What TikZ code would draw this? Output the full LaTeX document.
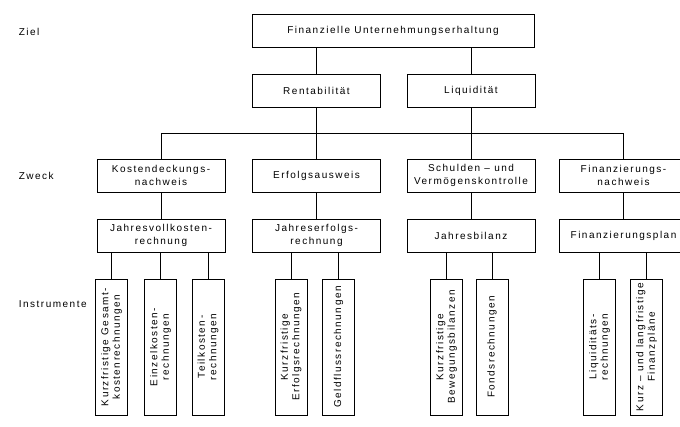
\documentclass[tikz,border=0pt]{standalone}
\usepackage{fontspec}
\setmainfont{Liberation Sans}[LetterSpace=15]
\usepackage{tikz}

\begin{document}
\begin{tikzpicture}[x=1pt,y=-1pt,line width=1pt,
  box/.style={draw,rectangle,align=center,inner sep=0pt,font=\fontsize{10}{12.5}\selectfont},
  wide/.style={box,minimum width=128pt,minimum height=33pt},
  instr/.style={box,minimum width=136pt,minimum height=32pt,rotate=90},
  level/.style={anchor=west,font=\fontsize{10}{12}\selectfont}]
\useasboundingbox (0,0) rectangle (680,426);

% Levels
\node[level] (lziel) at (15,32) {Ziel};
\node[level] (lzweck) at (15,176) {Zweck};
\node[level] (linstr) at (15,304) {Instrumente};

% Ziel
\node[box,minimum width=282pt,minimum height=33pt] (ziel) at (393,30.5) {Finanzielle Unternehmungserhaltung};
\node[wide] (rent) at (316.5,90.5) {Rentabilität};
\node[wide] (liq) at (471,90.5) {Liquidität};
\draw (ziel.south -| rent) -- (rent.north);
\draw (ziel.south -| liq) -- (liq.north);

% Zweck
\node[wide] (kost) at (161,175.5) {Kostendeckungs-\\nachweis};
\node[wide] (erfa) at (316.5,175.5) {Erfolgsausweis};
\node[wide] (schuld) at (471,175.5) {Schulden – und\\Vermögenskontrolle};
\node[wide] (finn) at (623.5,175.5) {Finanzierungs-\\nachweis};

\node[wide] (jvk) at (161,235.5) {Jahresvollkosten-\\rechnung};
\node[wide] (jer) at (316.5,235.5) {Jahreserfolgs-\\rechnung};
\node[wide] (jbil) at (471,235.5) {Jahresbilanz};
\node[wide] (fplan) at (623.5,235.5) {Finanzierungsplan};

\coordinate (bus) at (0,133);
\draw (kost.north |- bus) -- (finn.north |- bus);
\draw (rent.south) -- (rent.south |- bus);
\draw (liq.south) -- (liq.south |- bus);
\foreach \z/\r in {kost/jvk,erfa/jer,schuld/jbil,finn/fplan}{
  \draw (\z.north |- bus) -- (\z.north);
  \draw (\z.south) -- (\r.north);
}

% Instrumente
\foreach \n/\x/\p/\t in {
  k1/111.5/jvk/{Kurzfristige Gesamt-\\kostenrechnungen},
  k2/160.5/jvk/{Einzelkosten-\\rechnungen},
  k3/208/jvk/{Teilkosten-\\rechnungen},
  e1/291/jer/{Kurzfristige\\Erfolgsrechnungen},
  e2/338.5/jer/{Geldflussrechnungen},
  b1/446.5/jbil/{Kurzfristige\\Bewegungsbilanzen},
  b2/492/jbil/{Fondsrechnungen},
  f1/599.5/fplan/{Liquiditäts-\\rechnungen},
  f2/646.5/fplan/{Kurz – und langfristige\\Finanzpläne}}{
  \node[instr,font=\fontsize{10}{11.5}\selectfont] (\n) at (\x,347) {\t};
  \draw (\n.east) -- (\n.east |- \p.south);
}
\end{tikzpicture}
\end{document}
